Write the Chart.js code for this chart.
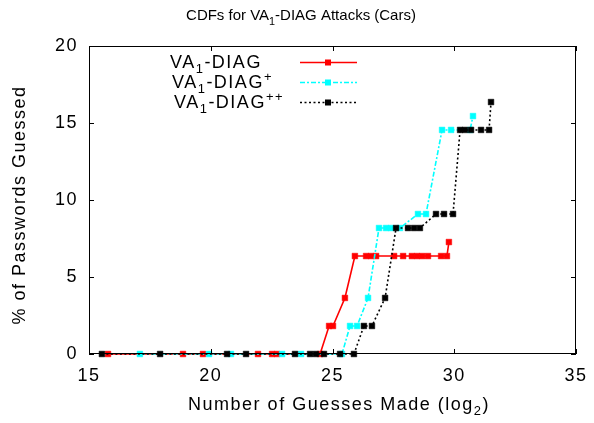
<!DOCTYPE html>
<html>
<head>
<meta charset="utf-8">
<script src="https://cdn.jsdelivr.net/npm/chart.js@4.4.0/dist/chart.umd.min.js"></script>
<style>
body { margin: 0; background: #fff; }
</style>
</head>
<body>
<canvas id="chart" width="594" height="423"></canvas>
<script>
// log2(guesses) and % of passwords guessed
var diagX = [15.78, 18.86, 19.68, 21.94, 22.52, 22.72, 24.49, 24.86, 25.02, 25.51, 25.92, 26.38, 26.58, 26.79, 27.53, 27.90, 28.26, 28.47, 28.68, 28.92, 29.46, 29.70, 29.78];
var diagY = [0, 0, 0, 0, 0, 0, 0, 1.82, 1.82, 3.64, 6.36, 6.36, 6.36, 6.36, 6.36, 6.36, 6.36, 6.36, 6.36, 6.36, 6.36, 6.36, 7.27];

var plusX = [17.09, 19.93, 20.83, 22.93, 23.71, 25.39, 25.72, 26.01, 26.46, 26.91, 27.20, 27.40, 27.77, 28.51, 28.84, 29.50, 29.87, 30.65, 30.77];
var plusY = [0, 0, 0, 0, 0, 0, 1.82, 1.82, 3.64, 8.18, 8.18, 8.18, 8.18, 9.09, 9.09, 14.55, 14.55, 14.55, 15.45];

var plus2X = [15.53, 17.92, 20.67, 21.45, 23.46, 24.08, 24.32, 24.65, 25.31, 25.88, 26.29, 26.62, 27.16, 27.61, 28.10, 28.35, 28.59, 29.25, 29.58, 29.95, 30.24, 30.44, 30.69, 31.10, 31.43, 31.51];
var plus2Y = [0, 0, 0, 0, 0, 0, 0, 0, 0, 0, 1.82, 1.82, 3.64, 8.18, 8.18, 8.18, 8.18, 9.09, 9.09, 9.09, 14.55, 14.55, 14.55, 14.55, 14.55, 16.36];

var xTicks = [15, 20, 25, 30, 35];
var yTicks = [0, 5, 10, 15, 20];

var fontFam = "'Liberation Sans', Arial, sans-serif";
var spacing = '1.5px';

function toPoints(xs, ys) {
    var pts = [];
    for (var i = 0; i < xs.length; i++) {
        pts.push({x: xs[i], y: ys[i]});
    }
    return pts;
}

// parts: [text, vertical shift in em] - shifted parts are drawn smaller
function richText(ctx, parts, x, y, size, align) {
    var w = 0;
    parts.forEach(function(p) {
        ctx.font = (p[1] ? size * 0.72 : size) + 'px ' + fontFam;
        w += ctx.measureText(p[0]).width;
    });
    var cx = align === 'center' ? x - w / 2 : (align === 'right' ? x - w : x);
    ctx.textAlign = 'left';
    ctx.textBaseline = 'alphabetic';
    parts.forEach(function(p) {
        var s = p[1] ? size * 0.72 : size;
        ctx.font = s + 'px ' + fontFam;
        ctx.fillText(p[0], cx, y + p[1] * size);
        cx += ctx.measureText(p[0]).width;
    });
}

var legendRows = [
    {parts: [['VA', 0], ['1', 0.3], ['-DIAG', 0]], x: 170, y: 62},
    {parts: [['VA', 0], ['1', 0.3], ['-DIAG', 0], ['+', -0.4]], x: 172, y: 82},
    {parts: [['VA', 0], ['1', 0.3], ['-DIAG', 0], ['++', -0.4]], x: 174, y: 102}
];

var decor = {
    id: 'decor',
    beforeInit: function(chart) {
        chart.ctx.letterSpacing = spacing;
    },
    beforeDraw: function(chart) {
        chart.ctx.letterSpacing = spacing;
    },
    afterDraw: function(chart) {
        var ctx = chart.ctx;
        var a = chart.chartArea;
        var xs = chart.scales.x, ys = chart.scales.y;
        ctx.save();
        ctx.fillStyle = '#000';
        ctx.strokeStyle = '#000';
        ctx.lineWidth = 1;
        ctx.setLineDash([]);
        // frame
        ctx.strokeRect(a.left + 0.5, a.top + 0.5, a.right - a.left - 1, a.bottom - a.top - 1);
        // inward ticks, mirrored
        ctx.beginPath();
        xTicks.forEach(function(t) {
            var px = Math.round(xs.getPixelForValue(t)) + 0.5;
            ctx.moveTo(px, a.bottom); ctx.lineTo(px, a.bottom - 5);
            ctx.moveTo(px, a.top); ctx.lineTo(px, a.top + 5);
        });
        yTicks.forEach(function(t) {
            var py = Math.round(ys.getPixelForValue(t)) + 0.5;
            ctx.moveTo(a.left, py); ctx.lineTo(a.left + 5, py);
            ctx.moveTo(a.right, py); ctx.lineTo(a.right - 5, py);
        });
        ctx.stroke();

        // title
        ctx.letterSpacing = '0px';
        richText(ctx, [['CDFs for VA', 0], ['1', 0.3], ['-DIAG Attacks (Cars)', 0]], 301, 20, 15, 'center');
        ctx.letterSpacing = spacing;
        // x title
        richText(ctx, [['Number of Guesses Made (log', 0], ['2', 0.3], [')', 0]], 339, 410, 18, 'center');
        // y title
        ctx.save();
        ctx.translate(25, 205);
        ctx.rotate(-Math.PI / 2);
        richText(ctx, [['% of Passwords Guessed', 0]], 0, 0, 18, 'center');
        ctx.restore();

        // legend
        legendRows.forEach(function(row, i) {
            ctx.fillStyle = '#000';
            richText(ctx, row.parts, row.x, row.y + 6, 18, 'left');
            var ds = chart.data.datasets[i];
            ctx.strokeStyle = ds.borderColor;
            ctx.lineWidth = ds.borderWidth;
            ctx.setLineDash(ds.borderDash || []);
            ctx.beginPath();
            ctx.moveTo(300, row.y + 0.5);
            ctx.lineTo(357, row.y + 0.5);
            ctx.stroke();
            ctx.setLineDash([]);
            ctx.fillStyle = ds.borderColor;
            ctx.fillRect(325, row.y - 2.5, 6, 6);
        });
        ctx.restore();
    }
};

var ctx = document.getElementById('chart').getContext('2d');
var chart = new Chart(ctx, {
    type: 'line',
    data: {
        datasets: [
            {
                label: 'VA1-DIAG',
                data: toPoints(diagX, diagY),
                borderColor: '#ff0000',
                backgroundColor: '#ff0000',
                borderWidth: 1.6,
                pointStyle: 'rect',
                pointRadius: 4,
                pointBorderWidth: 0.5,
                order: 3,
                clip: false
            },
            {
                label: 'VA1-DIAG+',
                data: toPoints(plusX, plusY),
                borderColor: '#00ffff',
                backgroundColor: '#00ffff',
                borderWidth: 1.6,
                borderDash: [5, 2, 2, 2],
                pointStyle: 'rect',
                pointRadius: 4,
                pointBorderWidth: 0.5,
                order: 2,
                clip: false
            },
            {
                label: 'VA1-DIAG++',
                data: toPoints(plus2X, plus2Y),
                borderColor: '#000000',
                backgroundColor: '#000000',
                borderWidth: 1.6,
                borderDash: [2, 2.5],
                pointStyle: 'rect',
                pointRadius: 4,
                pointBorderWidth: 0.5,
                order: 1,
                clip: false
            }
        ]
    },
    options: {
        responsive: false,
        animation: false,
        layout: {padding: {top: 46, right: 18, left: 0, bottom: 0}},
        plugins: {
            legend: {display: false},
            title: {display: false},
            tooltip: {enabled: false}
        },
        scales: {
            x: {
                type: 'linear',
                min: 15,
                max: 35,
                ticks: {stepSize: 5, color: '#000', font: {size: 18, family: fontFam}, padding: 11, maxRotation: 0},
                grid: {display: false, drawTicks: false},
                border: {display: false},
                afterFit: function(s) { s.height = 69; s.paddingLeft = 0; s.paddingRight = 0; }
            },
            y: {
                min: 0,
                max: 20,
                ticks: {stepSize: 5, color: '#000', font: {size: 18, family: fontFam}, padding: 11},
                grid: {display: false, drawTicks: false},
                border: {display: false},
                afterFit: function(s) { s.width = 89; s.paddingTop = 0; s.paddingBottom = 0; }
            }
        }
    },
    plugins: [decor]
});
</script>
</body>
</html>
